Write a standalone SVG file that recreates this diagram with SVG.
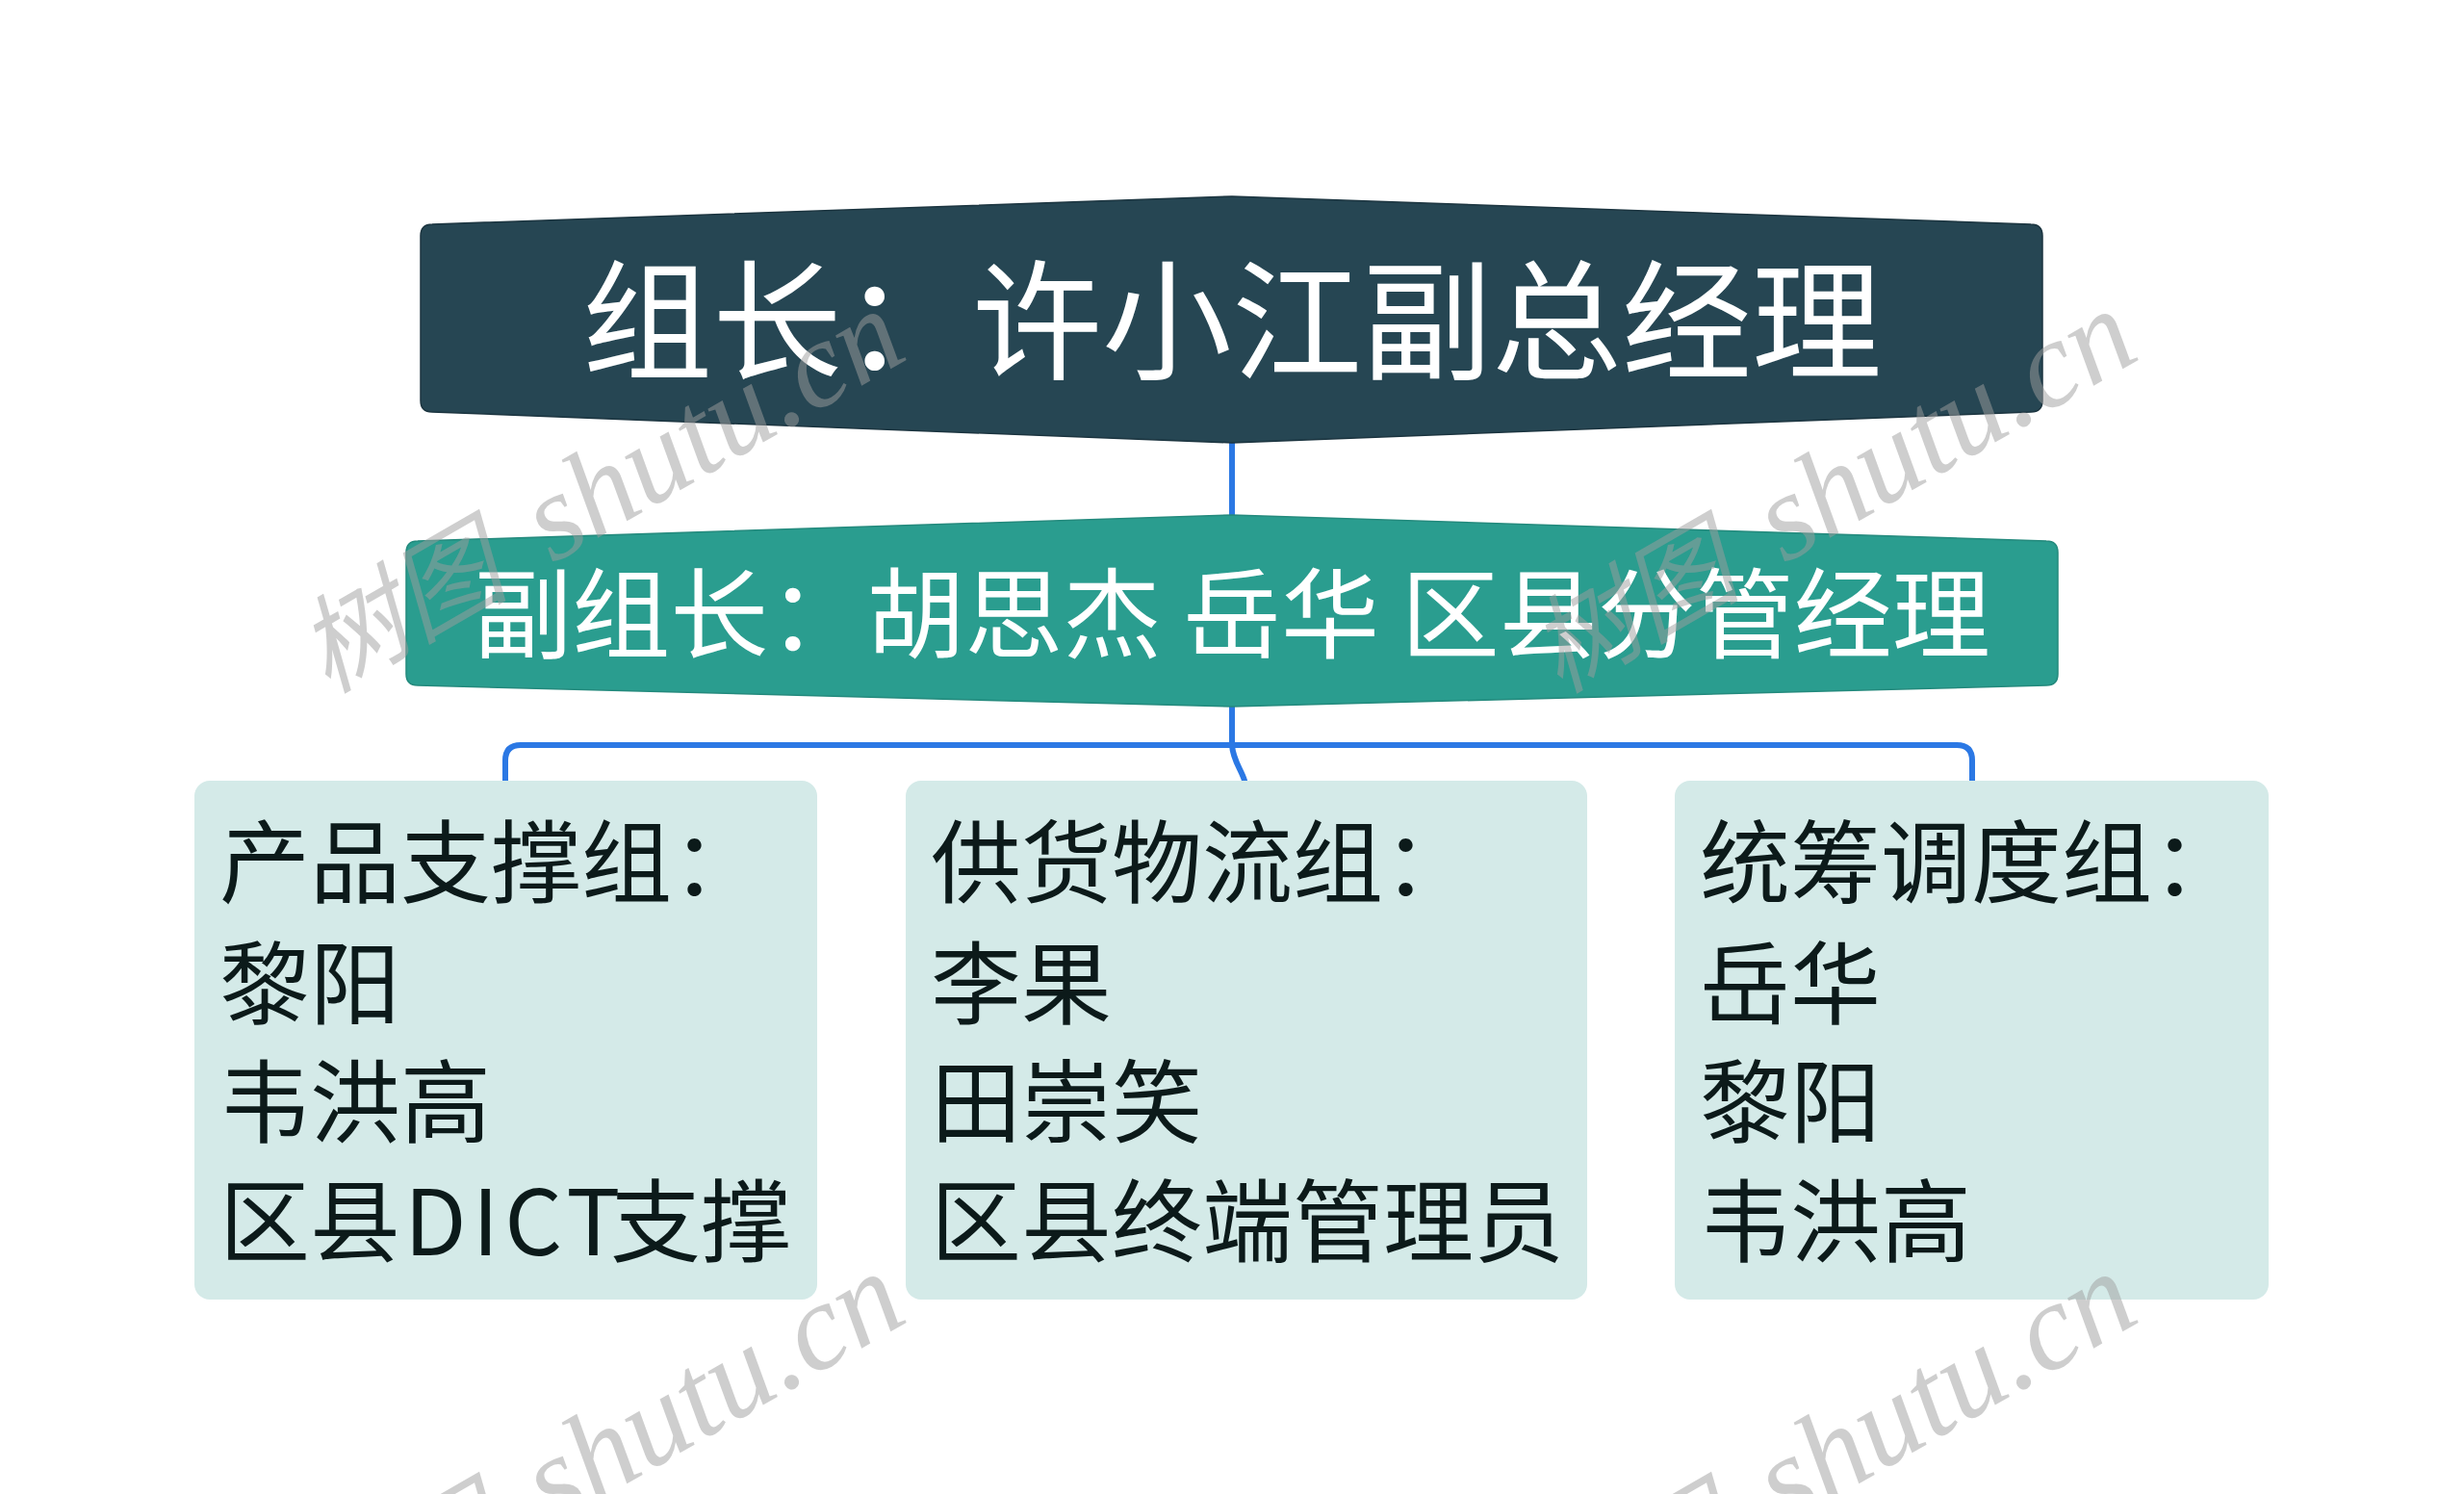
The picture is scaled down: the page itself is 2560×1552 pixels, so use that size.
<svg xmlns="http://www.w3.org/2000/svg" width="2560" height="1552" viewBox="0 0 2560 1552">
<style>
.cjk{font-family:"Noto Sans CJK SC","Noto Sans",sans-serif}
.t1{font-size:135px;fill:#ffffff}
.t2{font-size:102px;fill:#ffffff}
.t3{font-size:94px;fill:#0c1a1a}
.child{fill:#d4eae8}
.conn{fill:none;stroke:#2b78e4;stroke-width:6;stroke-linecap:round;stroke-linejoin:round}
.wm{fill:#9e9e9e;fill-opacity:0.5}
.wml{font-family:"Liberation Serif","DejaVu Serif",serif;font-style:italic;font-size:128px}
.wmc{font-family:"Noto Sans CJK SC",sans-serif;font-style:italic;font-size:110px}
</style>
<rect width="2560" height="1552" fill="#ffffff"/>
<g id="connectors">
<path class="conn" d="M1280,458 L1280,538"/>
<path class="conn" d="M1280,732 L1280,774 C1281,790 1290,800 1293,811"/>
<path class="conn" d="M525,811 L525,790 Q525,774 541,774 L2033,774 Q2049,774 2049,790 L2049,811"/>
</g>
<g id="node-root">
<path d="M449,233 L1280,204 L2110,233 Q2122,233 2122,245 L2122,416 Q2122,428 2110,428 L1280,460 L449,428 Q437,428 437,416 L437,245 Q437,233 449,233 Z" fill="#264653" stroke="#1c3540" stroke-width="1.5"/>
<text class="cjk t1" x="1280" y="384" text-anchor="middle">组长：许小江副总经理</text>
</g>
<g id="node-deputy">
<path d="M434,562 L1280,535 L2126,562 Q2138,562 2138,574 L2138,700 Q2138,712 2126,712 L1280,734 L434,712 Q422,712 422,700 L422,574 Q422,562 434,562 Z" fill="#2a9d8f" stroke="#248a7d" stroke-width="1.5"/>
<text class="cjk t2" x="1280" y="676" text-anchor="middle">副组长：胡思杰 岳华 区县分管经理</text>
</g>
<g id="node-product">
<rect class="child" x="202" y="811" width="647" height="539" rx="16"/>
<text class="cjk t3" x="228" y="931">产品支撑组：</text>
<text class="cjk t3" x="228" y="1057">黎阳</text>
<text class="cjk t3" x="228" y="1180">韦洪高</text>
<text class="cjk t3" y="1304"><tspan x="228">区县</tspan><tspan x="420" letter-spacing="6">DICT</tspan><tspan x="634">支撑</tspan></text>
</g>
<g id="node-logistics">
<rect class="child" x="941" y="811" width="708" height="539" rx="16"/>
<text class="cjk t3" x="967" y="931">供货物流组：</text>
<text class="cjk t3" x="967" y="1057">李果</text>
<text class="cjk t3" x="967" y="1180">田崇笑</text>
<text class="cjk t3" x="967" y="1304">区县终端管理员</text>
</g>
<g id="node-dispatch">
<rect class="child" x="1740" y="811" width="617" height="539" rx="16"/>
<text class="cjk t3" x="1766" y="931">统筹调度组：</text>
<text class="cjk t3" x="1766" y="1057">岳华</text>
<text class="cjk t3" x="1766" y="1180">黎阳</text>
<text class="cjk t3" x="1766" y="1304">韦洪高</text>
</g>
<g id="watermarks" class="wm">
<g transform="translate(574,586) rotate(-30)"><text class="wmc" x="-50" y="0" text-anchor="end">树图</text><text class="wml" x="0" y="0">shutu.cn</text></g>
<g transform="translate(1854,586) rotate(-30)"><text class="wmc" x="-50" y="0" text-anchor="end">树图</text><text class="wml" x="0" y="0">shutu.cn</text></g>
<g transform="translate(574,1586) rotate(-30)"><text class="wmc" x="-50" y="0" text-anchor="end">树图</text><text class="wml" x="0" y="0">shutu.cn</text></g>
<g transform="translate(1854,1586) rotate(-30)"><text class="wmc" x="-50" y="0" text-anchor="end">树图</text><text class="wml" x="0" y="0">shutu.cn</text></g>
</g>
</svg>
